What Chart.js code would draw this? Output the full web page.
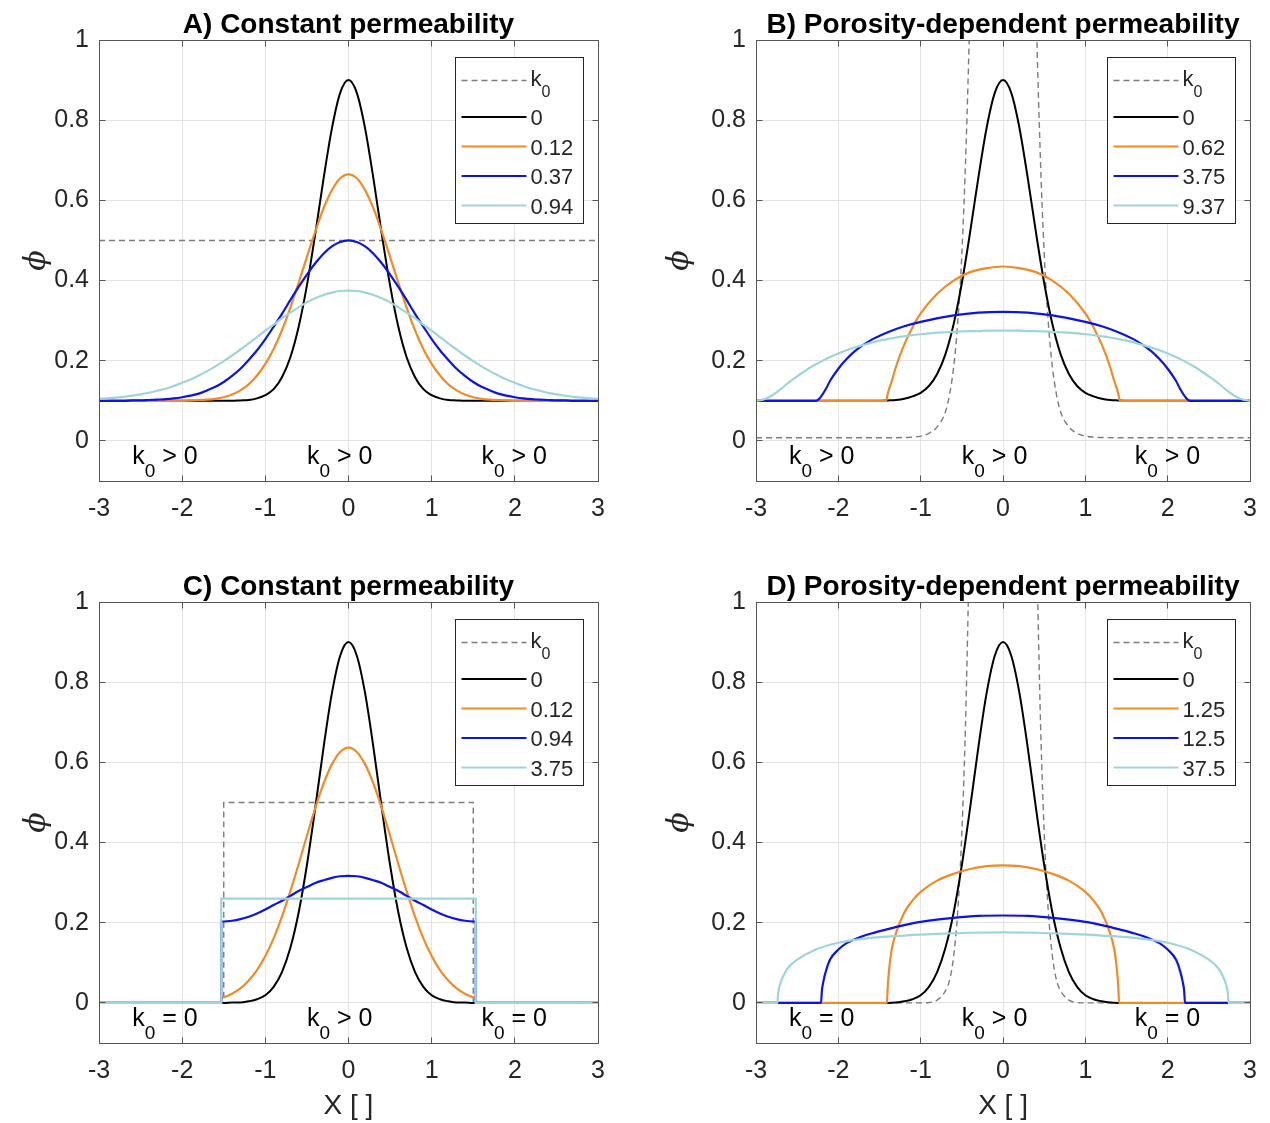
<!DOCTYPE html>
<html lang="en">
<head>
<meta charset="UTF-8" />
<title>Porosity profiles</title>
<script src="https://cdn.jsdelivr.net/npm/chart.js"></script>
<style>
  body { margin: 0; background: #fff; }
  .wrap { position: relative; width: 1270px; height: 1123px; }
  canvas { position: absolute; }
</style>
</head>
<body>
<div class="wrap">
  <canvas id="panelA" width="635" height="561" style="left:0;top:0"></canvas>
  <canvas id="panelB" width="635" height="561" style="left:635px;top:0"></canvas>
  <canvas id="panelC" width="635" height="562" style="left:0;top:561px"></canvas>
  <canvas id="panelD" width="635" height="562" style="left:635px;top:561px"></canvas>
</div>
<script>
// ---- axes ----
const xTicks = [-3, -2, -1, 0, 1, 2, 3];
const xTickLabels = ['-3', '-2', '-1', '0', '1', '2', '3'];
const yTicks = [0, 0.2, 0.4, 0.6, 0.8, 1];
const yTickLabels = ['0', '0.2', '0.4', '0.6', '0.8', '1'];

// shared x grid for the smooth curves
const xGrid = [-3,-2.9,-2.8,-2.7,-2.6,-2.5,-2.4,-2.3,-2.2,-2.1,-2,-1.9,-1.8,-1.7,-1.6,-1.5,-1.4,-1.3,-1.2,-1.1,-1,-0.9,-0.8,-0.7,-0.6,-0.5,-0.4,-0.3,-0.2,-0.1,0,
  0.1,0.2,0.3,0.4,0.5,0.6,0.7,0.8,0.9,1,1.1,1.2,1.3,1.4,1.5,1.6,1.7,1.8,1.9,2,2.1,2.2,2.3,2.4,2.5,2.6,2.7,2.8,2.9,3];

// ---- A) constant permeability, k0 > 0 everywhere ----
const kAx = [-3, 3];
const kA = [0.5, 0.5];
const blackA = [0.1,0.1,0.1,0.1,0.1,0.1,0.1,0.1,0.1,0.1,0.1,0.1,0.1,0.1,0.1,0.1,0.1,
  0.101,0.102,0.106,0.114,0.129,0.159,0.208,0.284,0.388,0.516,0.654,0.779,0.868,0.9,
  0.868,0.779,0.654,0.516,0.388,0.284,0.208,0.159,0.129,0.114,0.106,0.102,0.101,
  0.1,0.1,0.1,0.1,0.1,0.1,0.1,0.1,0.1,0.1,0.1,0.1,0.1,0.1,0.1,0.1,0.1];
const orangeA = [0.1,0.1,0.1,0.1,0.1,0.1,0.1,0.1,0.1,0.1,0.1,
  0.101,0.102,0.103,0.105,0.109,0.116,0.126,0.141,0.163,0.192,0.229,0.276,0.332,0.394,0.459,0.522,0.58,0.625,0.655,0.665,
  0.655,0.625,0.58,0.522,0.459,0.394,0.332,0.276,0.229,0.192,0.163,0.141,0.126,0.116,0.109,0.105,0.103,0.102,0.101,
  0.1,0.1,0.1,0.1,0.1,0.1,0.1,0.1,0.1,0.1,0.1];
const blueA = [0.1,0.1,0.1,0.1,0.101,0.101,0.102,0.103,0.104,0.106,0.109,0.113,0.118,0.126,0.135,0.147,0.162,0.18,0.202,0.226,
  0.254,0.285,0.317,0.351,0.384,0.415,0.443,0.467,0.485,0.496,0.5,
  0.496,0.485,0.467,0.443,0.415,0.384,0.351,0.317,0.285,0.254,
  0.226,0.202,0.18,0.162,0.147,0.135,0.126,0.118,0.113,0.109,0.106,0.104,0.103,0.102,0.101,0.101,0.1,0.1,0.1,0.1];
const cyanA = [0.105,0.106,0.108,0.11,0.113,0.116,0.12,0.125,0.13,0.137,0.145,0.153,0.163,0.174,0.186,0.199,0.213,0.228,0.243,0.259,
  0.275,0.29,0.306,0.32,0.333,0.346,0.356,0.364,0.37,0.374,0.375,
  0.374,0.37,0.364,0.356,0.346,0.333,0.32,0.306,0.29,0.275,
  0.259,0.243,0.228,0.213,0.199,0.186,0.174,0.163,0.153,0.145,0.137,0.13,0.125,0.12,0.116,0.113,0.11,0.108,0.106,0.105];

// ---- B) porosity-dependent permeability, k0 > 0 everywhere ----
const kBx = [-3,-1.4,-1.2,-1,-0.9,-0.8,-0.7,-0.65,-0.6,-0.55,-0.5,-0.45,-0.4,-0.3,-0.2,-0.1,0,
  0.1,0.2,0.3,0.4,0.45,0.5,0.55,0.6,0.65,0.7,0.8,0.9,1,1.2,1.4,3];
const kB = [0.008,0.008,0.0085,0.012,0.019,0.035,0.072,0.115,0.183,0.295,0.467,0.729,1.1,2.24,3.78,5.23,5.83,
  5.23,3.78,2.24,1.1,0.729,0.467,0.295,0.183,0.115,0.072,0.035,0.019,0.012,0.0085,0.008,0.008];
const blackB = [0.1,0.1,0.1,0.1,0.1,0.1,0.1,0.1,0.1,0.1,0.1,0.1,0.1,0.1,0.1,0.1,
  0.101,0.102,0.105,0.111,0.12,0.137,0.167,0.216,0.291,0.394,0.52,0.656,0.78,0.868,0.9,
  0.868,0.78,0.656,0.52,0.394,0.291,0.216,0.167,0.137,0.12,0.111,0.105,0.102,0.101,
  0.1,0.1,0.1,0.1,0.1,0.1,0.1,0.1,0.1,0.1,0.1,0.1,0.1,0.1,0.1,0.1];
const orangeBx = [-3,-1.42,-1.4,-1.35,-1.3,-1.2,-1.1,-1,-0.8,-0.6,-0.4,-0.2,0,0.2,0.4,0.6,0.8,1,1.1,1.2,1.3,1.35,1.4,1.42,3];
const orangeB = [0.1,0.1,0.118,0.15,0.185,0.24,0.283,0.318,0.367,0.4,0.421,0.431,0.435,
  0.431,0.421,0.4,0.367,0.318,0.283,0.24,0.185,0.15,0.118,0.1,0.1];
const blueBx = [-3,-2.27,-2.22,-2.15,-2.1,-2,-1.9,-1.8,-1.6,-1.4,-1.2,-1,-0.6,-0.3,0,0.3,0.6,1,1.2,1.4,1.6,1.8,1.9,2,2.1,2.15,2.22,2.27,3];
const blueB = [0.1,0.1,0.108,0.13,0.15,0.18,0.204,0.224,0.252,0.271,0.286,0.297,0.313,0.32,0.322,
  0.32,0.313,0.297,0.286,0.271,0.252,0.224,0.204,0.18,0.15,0.13,0.108,0.1,0.1];
const cyanB = [0.1,0.104,0.114,0.129,0.146,0.161,0.175,0.188,0.199,0.209,0.218,0.226,0.233,0.239,0.245,0.25,0.254,0.258,0.261,0.264,
  0.266,0.268,0.27,0.271,0.272,0.273,0.274,0.274,0.275,0.275,0.275,
  0.275,0.275,0.274,0.274,0.273,0.272,0.271,0.27,0.268,0.266,
  0.264,0.261,0.258,0.254,0.25,0.245,0.239,0.233,0.226,0.218,0.209,0.199,0.188,0.175,0.161,0.146,0.129,0.114,0.104,0.1];

// ---- C) constant permeability, k0 = 0 outside |x| < 1.5 ----
const kCx = [-3,-1.5,-1.5,1.5,1.5,3];
const kC = [0,0,0.5,0.5,0,0];
const xC = [-3,-1.53,-1.53,-1.5,-1.4,-1.3,-1.2,-1.1,-1,-0.9,-0.8,-0.7,-0.6,-0.5,-0.4,-0.3,-0.2,-0.1,0,
  0.1,0.2,0.3,0.4,0.5,0.6,0.7,0.8,0.9,1,1.1,1.2,1.3,1.4,1.5,1.53,1.53,3];
const blackC = [0,0,0,0,0.001,0.001,0.004,0.009,0.019,0.04,0.077,0.137,0.225,0.344,0.486,0.637,0.772,0.866,0.9,
  0.866,0.772,0.637,0.486,0.344,0.225,0.137,0.077,0.04,0.019,0.009,0.004,0.001,0.001,0,0,0,0];
const orangeC = [0,0,0.013,0.014,0.023,0.036,0.056,0.082,0.117,0.161,0.215,0.278,0.346,0.417,0.486,0.547,0.595,0.626,0.637,
  0.626,0.595,0.547,0.486,0.417,0.346,0.278,0.215,0.161,0.117,0.082,0.056,0.036,0.023,0.014,0.013,0,0];
const blueC = [0,0,0.203,0.203,0.205,0.209,0.215,0.223,0.233,0.244,0.255,0.267,0.279,0.289,0.299,0.306,0.312,0.316,0.317,
  0.316,0.312,0.306,0.299,0.289,0.279,0.267,0.255,0.244,0.233,0.223,0.215,0.209,0.205,0.203,0.203,0,0];
const cyanCx = [-3,-1.53,-1.53,1.53,1.53,3];
const cyanC = [0,0,0.26,0.26,0,0];

// ---- D) porosity-dependent permeability, k0 = 0 where phi = 0 ----
const kDx = [-3,-1,-0.9,-0.8,-0.7,-0.65,-0.6,-0.55,-0.5,-0.45,-0.4,-0.3,-0.2,0,0.2,0.3,0.4,0.45,0.5,0.55,0.6,0.65,0.7,0.8,0.9,1,3];
const kD = [0,0,0.001,0.007,0.03,0.056,0.116,0.228,0.425,0.742,1.26,2.84,5.06,8,
  5.06,2.84,1.26,0.742,0.425,0.228,0.116,0.056,0.03,0.007,0.001,0,0];
const blackD = [0,0,0,0,0,0,0,0,0,0,0,0,0,0,0,0,0,
  0.001,0.004,0.009,0.019,0.04,0.077,0.137,0.225,0.344,0.486,0.637,0.772,0.866,0.9,
  0.866,0.772,0.637,0.486,0.344,0.225,0.137,0.077,0.04,0.019,0.009,0.004,0.001,
  0,0,0,0,0,0,0,0,0,0,0,0,0,0,0,0,0];
const orangeDx = [-3,-1.41,-1.4,-1.38,-1.35,-1.3,-1.2,-1.1,-1,-0.8,-0.6,-0.4,-0.2,0,0.2,0.4,0.6,0.8,1,1.1,1.2,1.3,1.35,1.38,1.4,1.41,3];
const orangeD = [0,0,0.04,0.09,0.135,0.174,0.225,0.255,0.277,0.305,0.322,0.334,0.341,0.343,
  0.341,0.334,0.322,0.305,0.277,0.255,0.225,0.174,0.135,0.09,0.04,0,0];
const blueDx = [-3,-2.21,-2.2,-2.18,-2.15,-2.1,-2,-1.9,-1.8,-1.6,-1.4,-1.2,-1,-0.6,-0.3,0,
  0.3,0.6,1,1.2,1.4,1.6,1.8,1.9,2,2.1,2.15,2.18,2.2,2.21,3];
const blueD = [0,0,0.03,0.055,0.08,0.108,0.133,0.149,0.159,0.173,0.184,0.194,0.202,0.212,0.217,0.218,
  0.217,0.212,0.202,0.194,0.184,0.173,0.159,0.149,0.133,0.108,0.08,0.055,0.03,0,0];
const cyanDx = [-3,-2.74,-2.73,-2.71,-2.68,-2.62,-2.5,-2.3,-2,-1.6,-1.2,-0.8,-0.4,0,0.4,0.8,1.2,1.6,2,2.3,2.5,2.62,2.68,2.71,2.73,2.74,3];
const cyanD = [0,0,0.025,0.045,0.062,0.085,0.108,0.131,0.15,0.162,0.168,0.172,0.175,0.176,
  0.175,0.172,0.168,0.162,0.15,0.131,0.108,0.085,0.062,0.045,0.025,0,0];

// legend entries (k0 first, then the permeability values)
const legendA = ['k_0', '0', '0.12', '0.37', '0.94'];
const legendB = ['k_0', '0', '0.62', '3.75', '9.37'];
const legendC = ['k_0', '0', '0.12', '0.94', '3.75'];
const legendD = ['k_0', '0', '1.25', '12.5', '37.5'];

// region annotations along the bottom of each panel
const regionX = [-2.6, -0.5, 1.6];
const regionY = -0.058;
const regionsOpen = ['k_0 > 0', 'k_0 > 0', 'k_0 > 0'];
const regionsClosed = ['k_0 = 0', 'k_0 > 0', 'k_0 = 0'];

// ---- styles ----
const FONT = '"Liberation Sans", Arial, Helvetica, sans-serif';
const TXT = '#262626';
const AXIS = '#555555';
const GRID = '#e3e3e3';
const LINE_STYLES = [
  { color: '#7c7c7c', width: 1.4, dash: [6, 4] },
  { color: '#000000', width: 2, dash: [] },
  { color: '#f28a26', width: 2.2, dash: [] },
  { color: '#0b14e6', width: 2.2, dash: [] },
  { color: '#9fd4d9', width: 2.2, dash: [] }
];
const LEGEND = { w: 128, h: 166, right: 15, top: 17, rows: [23, 59.5, 89, 118.5, 148], line0: 6, line1: 71, text: 75, size: 22 };

// text with simple "_x" subscripts
function drawTex(ctx, text, x, y, size) {
  const parts = text.split('_');
  let cx = x;
  parts.forEach((p, i) => {
    let rest = p;
    if (i > 0) {
      const sub = p[0];
      rest = p.slice(1);
      ctx.font = Math.round(size * 0.74) + 'px ' + FONT;
      ctx.fillText(sub, cx, y + size * 0.5);
      cx += ctx.measureText(sub).width;
    }
    if (rest) {
      ctx.font = size + 'px ' + FONT;
      ctx.fillText(rest, cx, y);
      cx += ctx.measureText(rest).width;
    }
  });
}

// matlab-ish decorations: box with inward ticks, title, region notes, legend
const decor = {
  id: 'decor',
  afterDraw(chart, args, opts) {
    const ctx = chart.ctx, a = chart.chartArea;
    const xs = chart.scales.x, ys = chart.scales.y;
    const al = p => Math.round(p - 0.5) + 0.5;
    ctx.save();

    const L = al(a.left), R = al(a.right), T = al(a.top), B = al(a.bottom);
    ctx.strokeStyle = AXIS;
    ctx.lineWidth = 1;
    ctx.setLineDash([]);
    ctx.strokeRect(L, T, R - L, B - T);
    ctx.beginPath();
    xTicks.forEach(v => {
      const p = al(xs.getPixelForValue(v));
      ctx.moveTo(p, B); ctx.lineTo(p, B - 6);
      ctx.moveTo(p, T); ctx.lineTo(p, T + 6);
    });
    yTicks.forEach(v => {
      const p = al(ys.getPixelForValue(v));
      ctx.moveTo(L, p); ctx.lineTo(L + 6, p);
      ctx.moveTo(R, p); ctx.lineTo(R - 6, p);
    });
    ctx.stroke();

    ctx.fillStyle = '#000';
    ctx.font = 'bold 28px ' + FONT;
    ctx.textAlign = 'center';
    ctx.textBaseline = 'alphabetic';
    ctx.fillText(opts.title, (a.left + a.right) / 2, a.top - 7);

    ctx.textAlign = 'left';
    opts.regions.forEach((t, i) => {
      drawTex(ctx, t, xs.getPixelForValue(regionX[i]), ys.getPixelForValue(regionY), 25);
    });

    // legend
    const bx = al(a.right - LEGEND.right - LEGEND.w), by = al(a.top + LEGEND.top);
    ctx.fillStyle = '#fff';
    ctx.fillRect(bx, by, LEGEND.w, LEGEND.h);
    ctx.strokeStyle = TXT;
    ctx.lineWidth = 1;
    ctx.strokeRect(bx, by, LEGEND.w, LEGEND.h);
    chart.data.datasets.forEach((ds, i) => {
      const ly = by + LEGEND.rows[i];
      ctx.beginPath();
      ctx.setLineDash(ds.borderDash);
      ctx.strokeStyle = ds.borderColor;
      ctx.lineWidth = ds.borderWidth;
      ctx.moveTo(bx + LEGEND.line0, ly);
      ctx.lineTo(bx + LEGEND.line1, ly);
      ctx.stroke();
      ctx.setLineDash([]);
      ctx.fillStyle = TXT;
      drawTex(ctx, ds.label, bx + LEGEND.text, ly + (ds.label.indexOf('_') >= 0 ? 5.5 : 8), LEGEND.size);
    });
    ctx.restore();
  }
};

function series(xs, ys) {
  return xs.map((x, i) => ({ x: x, y: ys[i] }));
}

function makePanel(id, title, lines, labels, regions, box) {
  const datasets = lines.map((ln, i) => ({
    label: labels[i],
    data: series(ln[0], ln[1]),
    borderColor: LINE_STYLES[i].color,
    borderWidth: LINE_STYLES[i].width,
    borderDash: LINE_STYLES[i].dash,
    pointRadius: 0,
    fill: false,
    tension: 0.3,
    cubicInterpolationMode: 'monotone',
    order: lines.length - i
  }));

  new Chart(document.getElementById(id), {
    type: 'line',
    data: { datasets: datasets },
    options: {
      responsive: false,
      animation: false,
      devicePixelRatio: 1,
      events: [],
      layout: { padding: { left: 0, right: box.padR, top: box.padT, bottom: 0 } },
      plugins: {
        legend: { display: false },
        tooltip: { enabled: false },
        decor: { title: title, regions: regions }
      },
      scales: {
        x: {
          type: 'linear', min: -3, max: 3,
          afterBuildTicks: s => { s.ticks = xTicks.map(v => ({ value: v })); },
          afterFit: s => { s.height = box.xh; },
          grid: { color: GRID, drawTicks: false },
          border: { display: false },
          ticks: {
            padding: 13, maxRotation: 0, autoSkip: false, color: TXT,
            font: { family: FONT, size: 25 },
            callback: (v, i) => xTickLabels[i]
          },
          title: {
            display: box.xTitle, text: 'X [ ]', color: TXT,
            font: { family: FONT, size: 28 }, padding: { top: 0, bottom: 0 }
          }
        },
        y: {
          type: 'linear', min: -0.1, max: 1,
          afterBuildTicks: s => { s.ticks = yTicks.map(v => ({ value: v })); },
          afterFit: s => { s.width = box.yw; },
          grid: { color: GRID, drawTicks: false },
          border: { display: false },
          ticks: {
            padding: 10, color: TXT,
            font: { family: FONT, size: 25 },
            callback: (v, i) => yTickLabels[i]
          },
          title: {
            display: true, text: 'ϕ', color: TXT,
            font: { family: '"DejaVu Serif", serif', size: 30, style: 'italic' },
            padding: { top: box.yTitlePad, bottom: 0 }
          }
        }
      }
    },
    plugins: [decor]
  });
}

makePanel('panelA', 'A) Constant permeability',
  [[kAx, kA], [xGrid, blackA], [xGrid, orangeA], [xGrid, blueA], [xGrid, cyanA]],
  legendA, regionsOpen,
  { yw: 99, padR: 37, padT: 40, xh: 80, yTitlePad: 19, xTitle: false });

makePanel('panelB', 'B) Porosity-dependent permeability',
  [[kBx, kB], [xGrid, blackB], [orangeBx, orangeB], [blueBx, blueB], [xGrid, cyanB]],
  legendB, regionsOpen,
  { yw: 121, padR: 17, padT: 40, xh: 80, yTitlePad: 27, xTitle: false });

makePanel('panelC', 'C) Constant permeability',
  [[kCx, kC], [xC, blackC], [xC, orangeC], [xC, blueC], [cyanCx, cyanC]],
  legendC, regionsClosed,
  { yw: 99, padR: 37, padT: 41, xh: 80, yTitlePad: 19, xTitle: true });

makePanel('panelD', 'D) Porosity-dependent permeability',
  [[kDx, kD], [xGrid, blackD], [orangeDx, orangeD], [blueDx, blueD], [cyanDx, cyanD]],
  legendD, regionsClosed,
  { yw: 121, padR: 17, padT: 41, xh: 80, yTitlePad: 27, xTitle: true });
</script>
</body>
</html>
